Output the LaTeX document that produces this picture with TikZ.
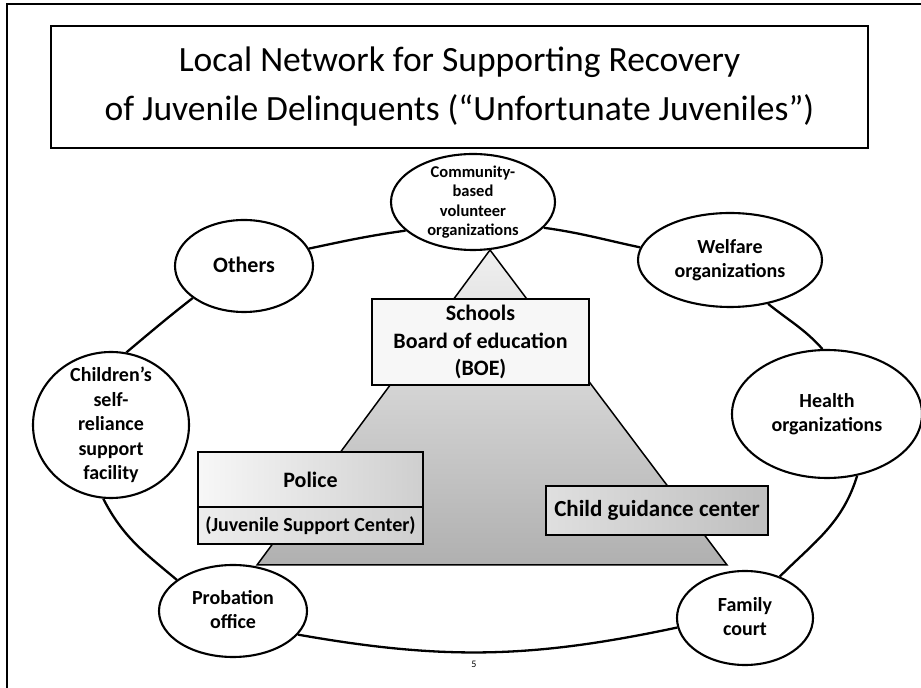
\documentclass[tikz,border=0pt]{standalone}
\usepackage{fontspec}
\setmainfont{Carlito}
\usetikzlibrary{shapes.geometric}

% centred multi-line text that takes no room, so an ellipse keeps its set size
\newcommand{\inset}[1]{\raisebox{-0.3em}[0pt][0pt]{\makebox[0pt]{\begin{tabular}{@{}c@{}}#1\end{tabular}}}}

\begin{document}
\begin{tikzpicture}[x=1pt,y=1pt,
  org/.style={ellipse, draw, line width=2.1pt, fill=white, inner sep=0pt,
    font=\fontsize{20}{24.5}\selectfont\bfseries},
  ring/.style={line width=2.3pt},
  tier/.style={draw, line width=1.5pt, align=center, inner sep=0pt,
    font=\fontsize{22}{27.5}\selectfont\bfseries},
  heading/.style={draw, line width=1.5pt, align=center, inner sep=0pt,
    font=\fontsize{35.5}{49}\selectfont}
]
\useasboundingbox (0,0) rectangle (921,688);

% page frame
\draw[line width=1.5pt] (7,0) -- (7,684) -- (921,684);

% heading
\node[heading, minimum width=817pt, minimum height=122pt] (title) at (459.5,601)
  {Local Network for Supporting Recovery\\of Juvenile Delinquents (“Unfortunate Juveniles”)};

% organisations around the network
\node[org, minimum width=164pt, minimum height=96pt,
  font=\fontsize{16.5}{19.5}\selectfont\bfseries] (com) at (473,486)
  {\inset{Community-\\based\\volunteer\\organizations}};
\node[org, minimum width=138pt, minimum height=92pt,
  font=\fontsize{22}{26}\selectfont\bfseries] (oth) at (244,422) {\inset{Others}};
\node[org, minimum width=184pt, minimum height=94pt] (wel) at (730,428)
  {\inset{Welfare\\organizations}};
\node[org, minimum width=190pt, minimum height=128pt] (hea) at (827,274)
  {\inset{Health\\organizations}};
\node[org, minimum width=136pt, minimum height=94pt] (fam) at (745,70)
  {\inset{Family\\court}};
\node[org, minimum width=148pt, minimum height=92pt] (pro) at (233,77)
  {\inset{Probation\\office}};
\node[org, minimum width=156pt, minimum height=146pt] (chi) at (111,263)
  {\inset{Children’s\\self-\\reliance\\support\\facility}};

% the ring linking them
\draw[ring] (oth.15)  to[out=12,in=188]   (com.203);
\draw[ring] (com.-20) to[out=-8,in=168]   (wel.172);
\draw[ring] (wel.-49) to[out=-39,in=132]  (hea.94);
\draw[ring] (hea.-64) to[out=-107,in=45]  (fam.50);
\draw[ring] (fam.188) to[out=192,in=-10]  (pro.-20);
\draw[ring] (pro.151) to[out=140,in=-63]  (chi.264);
\draw[ring] (chi.78)  to[out=40,in=218]   (oth.212);

% pyramid of core agencies
\coordinate (apex) at (490,438);
\coordinate (baseL) at (257,123);
\coordinate (baseR) at (727,123);
\draw[line width=1.5pt, top color=gray!12, bottom color=gray!62]
  (apex) -- (baseR) -- (baseL) -- cycle;

\node[tier, minimum width=217pt, minimum height=86pt, fill=gray!6] (boe) at (480.5,346)
  {Schools\\Board of education\\(BOE)};
\node[tier, minimum width=225pt, minimum height=55pt, left color=gray!6, right color=gray!38]
  (police) at (310.5,208.5) {Police};
\node[tier, minimum width=225pt, minimum height=37pt, left color=gray!14, right color=gray!38,
  font=\fontsize{20}{24}\selectfont\bfseries] (jsc) at (310.5,162.5) {(Juvenile Support Center)};
\node[tier, minimum width=222pt, minimum height=49pt, left color=gray!25, right color=gray!50,
  font=\fontsize{23}{27}\selectfont\bfseries] (cgc) at (657,177.5) {Child guidance center};

% page number
\node[font=\fontsize{10}{12}\selectfont] (pg) at (474,24) {5};
\end{tikzpicture}
\end{document}
